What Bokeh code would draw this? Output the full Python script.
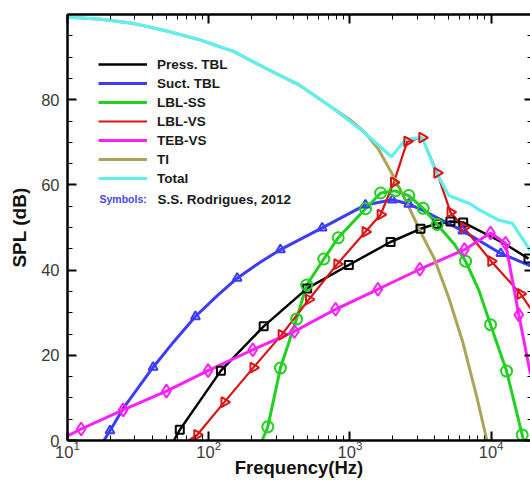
import numpy as np
from bokeh.plotting import figure
from bokeh.models import (LogAxis, LinearAxis, FixedTicker, LogTicker, Legend,
                          LegendItem, Label)
from bokeh.embed import file_html
from bokeh.resources import INLINE

FONT = "Liberation Sans"

# ---------------- data (frequency in Hz, SPL in dB) ----------------
press_f = [56.6, 62.4, 122, 245, 498, 982, 1940, 3160, 4150, 5150, 6340, 12300, 18400]
press_db = [0, 2.5, 16.4, 26.8, 35.7, 41.2, 46.6, 49.7, 50.9, 51.4, 51.2, 46.3, 42.7]
press_mf = [62.4, 122, 245, 498, 982, 1940, 3160, 4150, 5150, 6340, 18400]
press_mdb = [2.5, 16.4, 26.8, 35.7, 41.2, 46.6, 49.7, 50.9, 51.4, 51.2, 42.7]

suct_f = [18.1, 20, 25.1, 40.4, 56.6, 80.5, 115, 159, 230, 322, 636, 1288, 2000, 2610, 3300, 6300, 11700, 19000]
suct_db = [0, 2.3, 7.8, 17.2, 23.2, 29.1, 34.0, 38.1, 41.8, 44.8, 49.9, 55.3, 56.5, 55.5, 54.0, 49.2, 43.9, 41.0]
suct_mf = [20, 40.4, 80.5, 159, 322, 636, 1288, 2000, 2610, 6300, 11700]
suct_mdb = [2.3, 17.2, 29.1, 38.1, 44.8, 49.9, 55.3, 56.5, 55.5, 49.2, 43.9]

lblss_f = [239, 262, 322, 419, 494, 653, 826, 1290, 1650, 2090, 2610, 3300, 4150, 5450, 6590, 8180, 9900, 12860, 16600, 16950]
lblss_db = [0, 3.2, 17.0, 28.5, 36.5, 42.6, 47.6, 54.4, 58.1, 58.6, 57.5, 54.5, 50.7, 46.2, 42.1, 35.3, 27.2, 16.3, 1.3, 0]
lblss_mf = [262, 322, 419, 494, 653, 826, 1290, 1650, 2090, 2610, 3300, 4150, 6590, 9900, 12860, 16600]
lblss_mdb = [3.2, 17.0, 28.5, 36.5, 42.6, 47.6, 54.4, 58.1, 58.6, 57.5, 54.5, 50.7, 42.1, 27.2, 16.3, 1.3]

lblvs_f = [72.3, 82.8, 129, 207, 328, 512, 813, 1288, 1648, 2048, 2547, 3250, 4150, 5150, 6410, 10000, 16150, 19000]
lblvs_db = [0, 1.3, 9.0, 17.1, 24.8, 33.1, 41.4, 49.0, 53.0, 60.6, 70.2, 71.1, 62.8, 53.6, 50.0, 42.1, 34.4, 31.0]
lblvs_mf = [82.8, 129, 207, 328, 512, 813, 1288, 1648, 2048, 2547, 3250, 4150, 5150, 6410, 10000, 16150]
lblvs_mdb = [1.3, 9.0, 17.1, 24.8, 33.1, 41.4, 49.0, 53.0, 60.6, 70.2, 71.1, 62.8, 53.6, 50.0, 42.1, 34.4]

tebvs_f = [10, 12.5, 24.8, 50.2, 99, 205, 405, 791, 1578, 3126, 6470, 9900, 12650, 15700, 19000]
tebvs_db = [1.1, 2.7, 7.2, 11.6, 16.4, 21.3, 25.6, 30.8, 35.5, 40.2, 44.8, 48.7, 46.3, 29.5, 15.5]
tebvs_mf = [12.5, 24.8, 50.2, 99, 205, 405, 791, 1578, 3126, 6470, 9900, 12650, 15700]
tebvs_mdb = [2.7, 7.2, 11.6, 16.4, 21.3, 25.6, 30.8, 35.5, 40.2, 44.8, 48.7, 46.3, 29.5]

ti_f = [10, 17.1, 29.5, 50.8, 87.5, 151, 252, 435, 750, 1000, 1259, 1585, 1995, 2512, 3162, 3981, 5012, 6310, 7943, 9330]
ti_db = [99.4, 98.9, 97.9, 96.1, 94.0, 91.3, 87.4, 83.5, 78.1, 75.3, 72.5, 68.5, 62.5, 56.0, 49.0, 42.5, 33.5, 23.0, 10.0, 0]

total_f = [10, 17.1, 29.5, 50.8, 87.5, 151, 252, 435, 750, 1222, 1972, 2478, 3250, 4036, 5012, 7150, 8180, 11350, 14100, 19000]
total_db = [99.4, 98.9, 97.9, 96.1, 94.0, 91.3, 87.4, 83.5, 78.1, 72.7, 66.6, 70.7, 71.1, 63.3, 57.5, 55.5, 54.2, 51.7, 51.0, 44.5]

labels = ["Press. TBL", "Suct. TBL", "LBL-SS", "LBL-VS", "TEB-VS", "TI", "Total"]
y_ticks = [0, 20, 40, 60, 80]
y_minor = [5, 10, 15, 25, 30, 35, 45, 50, 55, 65, 70, 75, 85, 90, 95]

# ---------------- figure ----------------
X0, X1 = 10, 19000
p = figure(width=530, height=480, x_axis_type="log", x_range=(X0, X1), y_range=(0, 100),
           output_backend="svg", toolbar_location=None,
           min_border_left=67, min_border_right=0, min_border_top=14, min_border_bottom=39)
p.outline_line_color = None
p.grid.visible = False
p.background_fill_color = "white"
p.border_fill_color = "white"

def style_axis(ax, show_labels=True, line=True, tin=9, mtin=5):
    ax.axis_line_width = 2.5
    ax.axis_line_color = "black"
    ax.axis_line_alpha = 1.0 if line else 0.0
    ax.major_tick_in = tin
    ax.major_tick_out = 0
    ax.minor_tick_in = mtin
    ax.minor_tick_out = 0
    ax.major_tick_line_width = 2
    ax.minor_tick_line_width = 1
    ax.major_tick_line_color = "black"
    ax.minor_tick_line_color = "black"
    if show_labels:
        ax.major_label_text_font = FONT
        ax.major_label_text_font_size = "16.5px"
        ax.major_label_text_color = "#3a3a3a"
    else:
        ax.major_label_text_font_size = "1px"
        ax.major_label_text_alpha = 0.0
        ax.major_label_standoff = 0

xa = p.xaxis[0]
ya = p.yaxis[0]
xa.ticker = LogTicker(num_minor_ticks=10)
ya.ticker = FixedTicker(ticks=y_ticks, minor_ticks=y_minor)
style_axis(xa)
style_axis(ya)
xa.major_label_standoff = 0
xa.axis_label = "Frequency(Hz)"
xa.axis_label_text_font = FONT
xa.axis_label_text_font_style = "bold"
xa.axis_label_text_font_size = "18.5px"
xa.axis_label_text_color = "#111111"
xa.axis_label_standoff = -4

ya.major_label_standoff = 8
ya.axis_label = "SPL (dB)"
ya.axis_label_text_font = FONT
ya.axis_label_text_font_style = "bold"
ya.axis_label_text_font_size = "19px"
ya.axis_label_text_color = "#111111"
ya.axis_label_standoff = 8

top = LogAxis(ticker=LogTicker(num_minor_ticks=10))
style_axis(top, show_labels=False)
p.add_layout(top, "above")
right = LinearAxis(ticker=FixedTicker(ticks=y_ticks, minor_ticks=y_minor))
style_axis(right, show_labels=False, line=False, tin=6, mtin=3)
p.add_layout(right, "right")

# ---------------- series ----------------
series = [
    (press_f, press_db, press_mf, press_mdb, "#000000", 2.5, "square", 8, 0.0),
    (suct_f, suct_db, suct_mf, suct_mdb, "#3c3cff", 3, "triangle", 9, 0.0),
    (lblss_f, lblss_db, lblss_mf, lblss_mdb, "#1ed21e", 3, "circle", 11, 0.0),
    (lblvs_f, lblvs_db, lblvs_mf, lblvs_mdb, "#dc1414", 2.2, "triangle", 10, -np.pi / 2),
    (tebvs_f, tebvs_db, tebvs_mf, tebvs_mdb, "#ff1eff", 3, "diamond", 13, 0.0),
    (ti_f, ti_db, None, None, "#ada45a", 3, None, 0, 0.0),
    (total_f, total_db, None, None, "#5ff0f0", 3.2, None, 0, 0.0),
]

line_renderers = []
for f, db, mf, mdb, col, lw, mk, ms, ang in series:
    r = p.line(f, db, line_color=col, line_width=lw)
    line_renderers.append(r)
for f, db, mf, mdb, col, lw, mk, ms, ang in series:
    if mk is not None:
        p.scatter(mf, mdb, marker=mk, size=ms, angle=ang, line_color=col,
                  line_width=2, fill_color=None)

FRAME_BOTTOM = 440  # expected canvas y of the x axis
legend = Legend(items=[LegendItem(label=lab, renderers=[r]) for lab, r in zip(labels, line_renderers)],
                location=(31, FRAME_BOTTOM - 186), orientation="vertical",
                border_line_color=None, background_fill_alpha=0,
                padding=0, margin=0, spacing=3, glyph_width=49, glyph_height=16,
                label_height=16, label_standoff=10,
                label_text_font=FONT, label_text_font_style="bold",
                label_text_font_size="13.5px", label_text_color="#1a1a1a")
p.add_layout(legend)

# helpers converting canvas pixels (reference layout) to data coordinates for text annotations
def px_x(px):
    return 10 ** (np.log10(X0) + (px - 67) / (463 / np.log10(X1 / X0)))

def px_y(py):
    return (FRAME_BOTTOM - py) / ((FRAME_BOTTOM - 14) / 100)

p.add_layout(Label(x=px_x(99), y=px_y(198.5), text="Symbols:", text_font=FONT,
                   text_font_style="bold", text_font_size="10.5px", text_color="#4646f5",
                   text_baseline="middle"))
p.add_layout(Label(x=px_x(157), y=px_y(198.5), text="S.S. Rodrigues, 2012", text_font=FONT,
                   text_font_style="bold", text_font_size="13.5px", text_color="#1a1a1a",
                   text_baseline="middle"))

open("out.html", "w").write(file_html(p, INLINE))
